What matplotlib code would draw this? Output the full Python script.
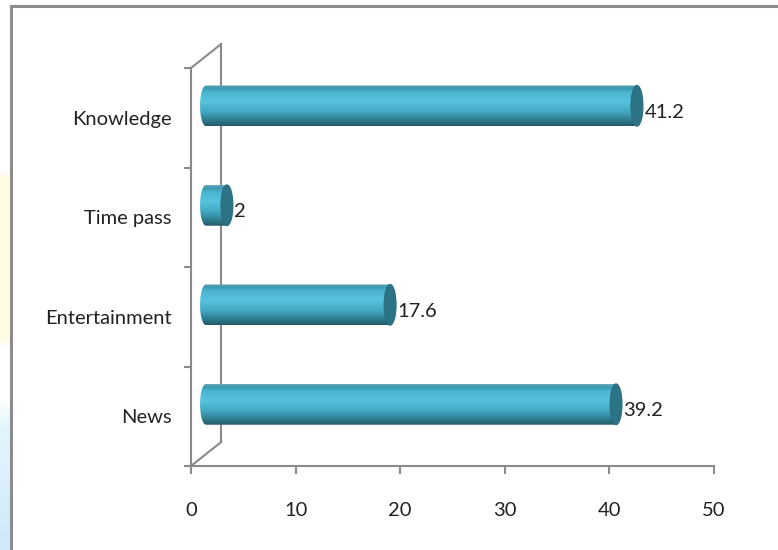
import numpy as np
import matplotlib.pyplot as plt
from matplotlib.patches import Ellipse, PathPatch, Rectangle
from matplotlib.path import Path
from matplotlib.colors import LinearSegmentedColormap

categories = ['News', 'Entertainment', 'Time pass', 'Knowledge']
values = [39.2, 17.6, 2, 41.2]
xticks = [0, 10, 20, 30, 40, 50]

plt.rcParams['font.family'] = ['Lato', 'DejaVu Sans']

W, H = 778, 550
fig = plt.figure(figsize=(W / 100, H / 100), dpi=100)

# pale strip down the left edge
strip = fig.add_axes([0, 0, 11 / W, 1])
strip_cmap = LinearSegmentedColormap.from_list('strip', [
    (0.0, '#d2e8fb'), (0.22, '#e2f6fc'), (0.27, '#ffffff'),
    (0.37, '#ffffff'), (0.38, '#fffbe3'), (0.68, '#fffbe3'),
    (0.69, '#ffffff'), (1.0, '#ffffff')])
strip.imshow(np.linspace(0, 1, 200).reshape(-1, 1), cmap=strip_cmap,
             origin='lower', aspect='auto', extent=(0, 1, 0, 1))
strip.axis('off')

# outer chart border
fig.patches.append(Rectangle((11 / W, -0.1), 1.0, 1.1 - 5.5 / H,
                             transform=fig.transFigure, fill=False,
                             edgecolor='#8c8c8c', lw=2.2))

ax = fig.add_axes([191 / W, (H - 466) / H, (714 - 191) / W, (466 - 68) / H])
ax.set_xlim(0, 50)
ax.set_ylim(-0.5, 3.5)
ax.patch.set_visible(False)

grey = '#8a8a8a'
for s in ['top', 'right']:
    ax.spines[s].set_visible(False)
for s in ['left', 'bottom']:
    ax.spines[s].set_color(grey)
    ax.spines[s].set_linewidth(1.5)

ax.set_xticks(xticks)
ax.set_xticklabels([str(t) for t in xticks])
ax.set_yticks(range(len(categories)))
ax.set_yticklabels(categories)
ax.set_yticks(np.arange(-0.5, len(categories), 1.0), minor=True)
ax.tick_params(axis='x', length=6, width=1.5, color=grey, pad=20,
               labelsize=14.5, labelcolor='#222222')
ax.tick_params(axis='y', which='major', length=0, pad=14,
               labelsize=14.5, labelcolor='#222222')
ax.tick_params(axis='y', which='minor', length=5, width=1.5, color=grey)
for lbl in ax.get_yticklabels():
    lbl.set_va('center_baseline')

# 3-D depth of the plot box (data units)
dx, dy = 2.87, 0.24
ax.plot([dx, dx], [-0.5 + dy, 3.5 + dy], color=grey, lw=1.5, clip_on=False)
ax.plot([0, dx], [3.5, 3.5 + dy], color=grey, lw=1.5, clip_on=False)
ax.plot([0, dx], [-0.5, -0.5 + dy], color=grey, lw=1.5, clip_on=False)

# cylinder bars
body_cmap = LinearSegmentedColormap.from_list('body', [
    (0.0, '#235a69'), (0.15, '#2f7d91'), (0.35, '#44a8c2'),
    (0.6, '#56c3df'), (0.82, '#4cb6d1'), (0.94, '#3b98af'),
    (1.0, '#6aa9b8')])
grad = np.linspace(0, 1, 100).reshape(-1, 1)

ox, oy = dx / 2, dy / 2
rx, bh = 0.57, 0.41
for i, v in enumerate(values):
    yc = i + oy
    x0, x1 = ox, ox + v
    t = np.linspace(np.pi / 2, 3 * np.pi / 2, 40)
    verts = [(x1, yc + bh / 2)]
    verts += list(zip(x0 + rx * np.cos(t), yc + bh / 2 * np.sin(t)))
    verts += [(x1, yc - bh / 2), (x1, yc + bh / 2)]
    codes = [Path.MOVETO] + [Path.LINETO] * (len(verts) - 2) + [Path.CLOSEPOLY]
    clip = PathPatch(Path(verts, codes), transform=ax.transData,
                     facecolor='none', edgecolor='none')
    ax.add_patch(clip)
    im = ax.imshow(grad, cmap=body_cmap, origin='lower', aspect='auto',
                   extent=(x0 - rx, x1, yc - bh / 2, yc + bh / 2),
                   interpolation='bilinear', zorder=3)
    im.set_clip_path(clip)
    ax.add_patch(Ellipse((x1, yc), 2 * rx, bh, facecolor='#2d7386',
                         edgecolor='#2b6d7f', lw=0.8, zorder=4))
    ax.annotate(f'{v:g}', (x1 + rx, yc), xytext=(1, -4.5),
                textcoords='offset points', va='center', ha='left',
                fontsize=14.5, color='#222222', zorder=5)

ax.set_xlim(0, 50)
ax.set_ylim(-0.5, 3.5)

fig.savefig('out.png', dpi=100)
